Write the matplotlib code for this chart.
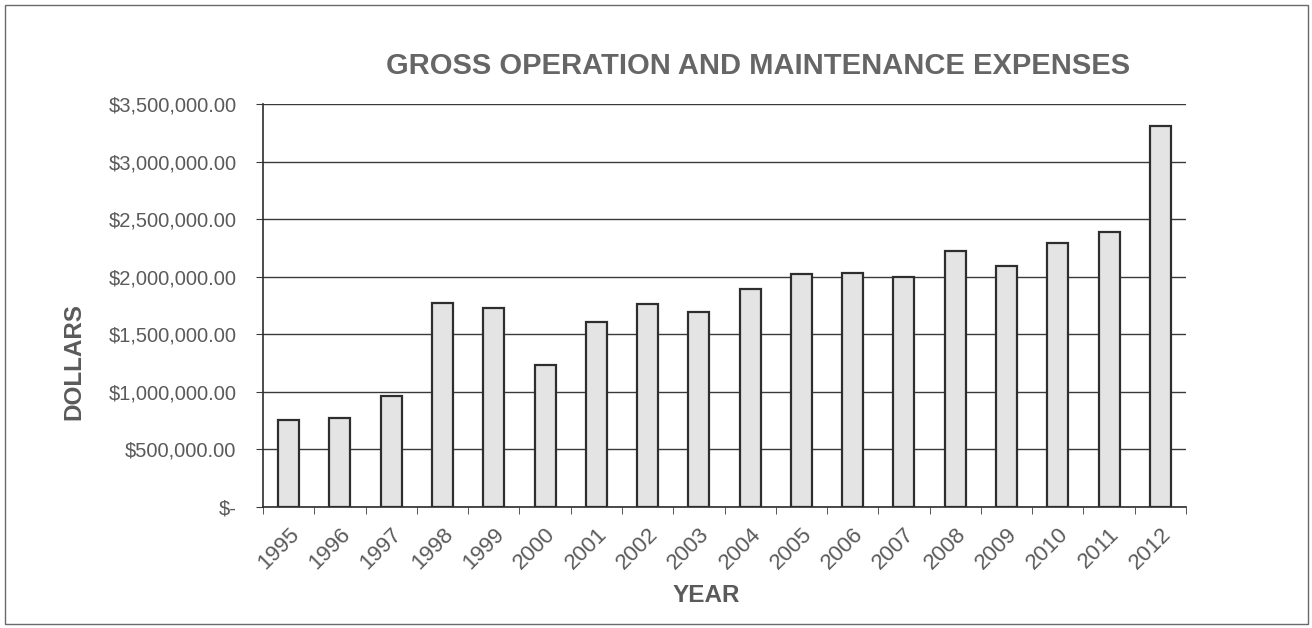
import matplotlib.pyplot as plt
from matplotlib.patches import Rectangle
from matplotlib.ticker import FuncFormatter, MultipleLocator
import numpy as np

plt.rcParams['font.family'] = ['Liberation Sans', 'DejaVu Sans']

years = ['1995', '1996', '1997', '1998', '1999', '2000', '2001', '2002', '2003',
         '2004', '2005', '2006', '2007', '2008', '2009', '2010', '2011', '2012']
expenses = [758000, 774000, 965000, 1775000, 1726000, 1232000, 1607000, 1767000, 1691000,
            1893000, 2021000, 2036000, 1995000, 2220000, 2090000, 2296000, 2385000, 3313000]

title = 'GROSS OPERATION AND MAINTENANCE EXPENSES'
text_color = '#5a5a5a'


def money(v, pos):
    if v == 0:
        return '$-'
    return '${:,.2f}'.format(v)


fig = plt.figure(figsize=(13.12, 6.28), dpi=100)
ax = fig.add_axes([263 / 1312, 1 - 507 / 628, (1186 - 263) / 1312, (507 - 104) / 628])

xs = np.arange(len(years))
ax.bar(xs, expenses, width=0.41, color='#e4e4e4', edgecolor='#2e2e2e', linewidth=1.6, zorder=3)

ax.set_xlim(-0.5, len(years) - 0.5)
ax.set_ylim(0, 3500000)
ax.yaxis.set_major_locator(MultipleLocator(500000))
ax.yaxis.set_major_formatter(FuncFormatter(money))
ax.grid(axis='y', color='#3a3a3a', linewidth=1.0, zorder=0)
ax.set_axisbelow(True)

ax.set_xticks(xs)
ax.set_xticklabels(years, rotation=45, ha='right', rotation_mode='anchor')
ax.set_xticks(np.arange(-0.5, len(years)), minor=True)
ax.tick_params(axis='x', which='major', length=0, pad=12, labelsize=16, labelcolor=text_color)
ax.tick_params(axis='x', which='minor', length=5, direction='out', color='#3a3a3a')
ax.tick_params(axis='y', length=5, direction='out', color='#3a3a3a', pad=14,
               labelsize=14.5, labelcolor=text_color)

for side in ['top', 'right']:
    ax.spines[side].set_visible(False)
for side in ['left', 'bottom']:
    ax.spines[side].set_color('#2e2e2e')
    ax.spines[side].set_linewidth(1.2)

fig.text(758 / 1312, 1 - 66 / 628, title, ha='center', va='center',
         fontsize=21, fontweight='bold', color='#666666')
fig.text(706 / 1312, 1 - 596 / 628, 'YEAR', ha='center', va='center',
         fontsize=17.5, fontweight='bold', color=text_color)
fig.text(74 / 1312, 1 - 361 / 628, 'DOLLARS', ha='center', va='center', rotation=90,
         fontsize=17.5, fontweight='bold', color=text_color)

fig.patches.append(Rectangle((5 / 1312, 4 / 628), 1303 / 1312, 619 / 628,
                             transform=fig.transFigure, fill=False,
                             edgecolor='#6a6a6a', linewidth=1.0))

fig.savefig('out.png', dpi=100)
